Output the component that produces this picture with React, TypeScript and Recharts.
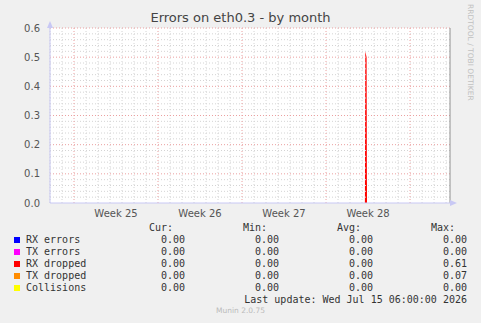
import { ComposedChart, Area, XAxis, YAxis, CartesianGrid, ReferenceLine } from "recharts"

// x values are days since Sat Jun 13 2026 00:00
const DAYS_SHOWN = 33.33
const weekStarts = [2, 9, 16, 23, 30]
const weekLabelPos = [5.5, 12.5, 19.5, 26.5]
const weekLabels = ["Week 25", "Week 26", "Week 27", "Week 28"]

const yTicks = [0, 0.1, 0.2, 0.3, 0.4, 0.5, 0.6]
const yMinor = [0.02, 0.04, 0.06, 0.08, 0.12, 0.14, 0.16, 0.18, 0.22, 0.24, 0.26, 0.28, 0.32, 0.34, 0.36, 0.38, 0.42, 0.44, 0.46, 0.48, 0.52, 0.54, 0.56, 0.58]

const times = [0, 26.24, 26.27, 26.38, 26.41, 33.33]
const rxDropped = [0, 0, 0.52, 0.5, 0, 0]
const txDropped = [0, 0, 0.07, 0.07, 0, 0]

const seriesNames = ["RX errors", "TX errors", "RX dropped", "TX dropped", "Collisions"]
const seriesColors = ["#0000ff", "#ff00ff", "#ff0000", "#ff8c00", "#ffff00"]
const curVals = ["0.00", "0.00", "0.00", "0.00", "0.00"]
const minVals = ["0.00", "0.00", "0.00", "0.00", "0.00"]
const avgVals = ["0.00", "0.00", "0.00", "0.00", "0.00"]
const maxVals = ["0.00", "0.00", "0.61", "0.07", "0.00"]

const data = times.map((t, i) => ({ t, rx: rxDropped[i], tx: txDropped[i] }))

const dayLines: number[] = []
for (let d = 0; d <= 33; d++) if (!weekStarts.includes(d)) dayLines.push(d)

const mono = "'DejaVu Sans Mono', monospace"
const sans = "'DejaVu Sans', sans-serif"
const axisBlue = "#c8c8f4"

const cols = [
  { head: "Cur:", vals: curVals, right: 185 },
  { head: "Min:", vals: minVals, right: 279 },
  { head: "Avg:", vals: avgVals, right: 373 },
  { head: "Max:", vals: maxVals, right: 467 },
]

export default function App() {
  const txt = { position: "absolute" as const, fontFamily: mono, fontSize: 10, color: "#333", lineHeight: "12px", whiteSpace: "pre" as const }
  return (
    <div style={{ position: "absolute", left: 0, top: 0, width: 481, height: 323, background: "#f0f0f0", overflow: "hidden" }}>
      <div style={{ position: "absolute", left: 0, width: 481, top: 10, textAlign: "center", fontFamily: sans, fontSize: 13, color: "#444" }}>
        Errors on eth0.3 - by month
      </div>
      <div style={{ position: "absolute", left: 466, top: 4, writingMode: "vertical-rl", fontFamily: sans, fontSize: 7.5, color: "#c0c0c0" }}>
        RRDTOOL / TOBI OETIKER
      </div>
      <ComposedChart width={481} height={225} data={data} margin={{ top: 28, right: 31, bottom: 0, left: 0 }}>
        <CartesianGrid fill="#ffffff" horizontal={false} vertical={false} />
        {dayLines.map((d) => (
          <ReferenceLine key={"d" + d} x={d} stroke="#d4d4d4" strokeDasharray="1 2" />
        ))}
        {yMinor.map((v) => (
          <ReferenceLine key={"m" + v} y={v} stroke="#d4d4d4" strokeDasharray="1 2" />
        ))}
        {weekStarts.map((d) => (
          <ReferenceLine key={"w" + d} x={d} stroke="#eba0a0" strokeDasharray="1 2" />
        ))}
        {yTicks.slice(1).map((v) => (
          <ReferenceLine key={"y" + v} y={v} stroke="#eba0a0" strokeDasharray="1 2" />
        ))}
        <ReferenceLine x={DAYS_SHOWN} stroke="#909090" />
        <Area type="linear" dataKey="tx" stroke="none" fill="#ff8c00" fillOpacity={1} isAnimationActive={false} />
        <Area type="linear" dataKey="rx" stroke="none" fill="#ff0000" fillOpacity={1} isAnimationActive={false} />
        <XAxis
          dataKey="t"
          type="number"
          domain={[0, DAYS_SHOWN]}
          ticks={weekLabelPos}
          tickFormatter={(v) => weekLabels[weekLabelPos.indexOf(v)]}
          tickLine={false}
          axisLine={{ stroke: axisBlue }}
          height={22}
          tick={{ fontSize: 10, fill: "#555", fontFamily: sans, dy: -1 }}
          interval={0}
          allowDataOverflow
        />
        <YAxis
          type="number"
          domain={[0, 0.6]}
          ticks={yTicks}
          tickFormatter={(v) => v.toFixed(1)}
          width={50}
          tickLine={false}
          axisLine={{ stroke: axisBlue }}
          tick={{ fontSize: 10, fill: "#555", fontFamily: sans, dx: -2 }}
          interval={0}
          allowDataOverflow
        />
      </ComposedChart>
      <svg style={{ position: "absolute", left: 0, top: 0 }} width={481} height={323}>
        <polygon points="47,28 53,28 50,21" fill={axisBlue} />
        <polygon points="450,200 450,206 457,203" fill={axisBlue} />
      </svg>
      {cols.map((c) => (
        <div key={c.head} style={{ ...txt, top: 222, right: 481 - c.right + 12 }}>{c.head}</div>
      ))}
      {seriesNames.map((name, i) => (
        <div key={name}>
          <div style={{ position: "absolute", left: 14, top: 237 + i * 12, width: 6, height: 6, background: seriesColors[i] }} />
          <div style={{ ...txt, left: 26, top: 234 + i * 12 }}>{name}</div>
          {cols.map((c) => (
            <div key={c.head} style={{ ...txt, top: 234 + i * 12, right: 481 - c.right }}>{c.vals[i]}</div>
          ))}
        </div>
      ))}
      <div style={{ ...txt, top: 294, right: 481 - 467 }}>Last update: Wed Jul 15 06:00:00 2026</div>
      <div style={{ position: "absolute", left: 0, width: 481, top: 306, textAlign: "center", fontFamily: sans, fontSize: 7.5, color: "#bbb" }}>
        Munin 2.0.75
      </div>
    </div>
  )
}
